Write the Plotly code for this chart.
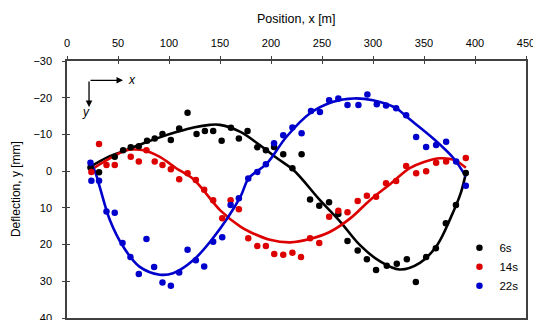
import plotly.graph_objects as go

# ---------------- data ----------------
black_x = [23, 31.4, 46.8, 55, 62.5, 70.4, 78.5, 86, 93.6, 101.8, 110, 118.2, 127, 135.2, 143.3,
           151.6, 160.7, 168.5, 177, 186.5, 195, 203, 212, 221, 230, 238.3, 247.3, 256.9, 266,
           275, 285, 294, 303, 313.5, 323.3, 333.2, 342, 352.1, 361.6, 371.4, 381.3, 391]
black_y = [-1.0, 0.3, -3.9, -5.7, -6.5, -6.8, -8.3, -8.9, -10.1, -8.5, -11.6, -15.9, -10.1, -10.9, -10.9,
           -8.3, -11.8, -8.9, -10.9, -6.5, -5.7, -6.6, -4.6, -0.8, -4.6, 7.7, 9.4, 8.5, 11.7,
           19.0, 21.6, 24.0, 26.9, 25.8, 25.2, 24.0, 30.2, 23.4, 21.0, 14.2, 9.2, 0.5]

red_x = [23.9, 31.4, 38.7, 46.8, 62.5, 70.4, 77.9, 86, 93.6, 101.8, 110, 118.2, 126.3, 134.5, 143.3,
         152.2, 160.4, 168.5, 177.7, 186.5, 195, 203.2, 212, 221, 229.4, 238.3, 247.3, 257, 266,
         275, 285, 294, 303, 312.8, 322.7, 332.5, 342.3, 352.1, 361.9, 371.7, 391]
red_y = [0.2, -7.4, -1.7, -1.7, -3.9, -2.6, -5.7, -2.6, -1.7, -0.5, 2.2, 0.6, 2.4, 5.1, 7.9,
         12.8, 7.9, 10.4, 18.3, 20.4, 20.4, 22.6, 22.8, 22.2, 23.4, 18.3, 19.6, 12.4, 10.8,
         11.2, 8.1, 6.7, 7.0, 3.3, 2.7, -1.4, 0.6, 0.0, -2.3, -2.6, -3.6]

blue_x = [23, 23.9, 31.4, 38.7, 46.8, 54.4, 62.2, 70.4, 77.9, 85.4, 93.6, 101.8, 110, 118.2, 126.3,
          134.5, 143.3, 152.2, 160.4, 168.5, 177.7, 186.5, 195, 203, 212, 221, 230, 239.2, 248,
          257, 266, 275, 285.7, 294.5, 303.7, 312.8, 322.7, 332.5, 342.3, 352.1, 361.9, 371.7,
          381.5, 391]
blue_y = [-2.3, 2.6, 2.6, 11.0, 11.3, 19.6, 23.4, 28.0, 18.5, 26.1, 30.3, 31.2, 27.6, 21.4, 24.3,
          26.0, 19.2, 18.0, 9.2, 7.4, 2.0, 0.2, -1.9, -7.6, -9.8, -11.9, -10.3, -16.4, -16.1,
          -19.3, -19.8, -18.0, -18.0, -20.9, -18.2, -17.9, -17.1, -15.2, -9.3, -6.6, -7.1, -8.0,
          -2.6, 4.0]

# trend curves
black_fit_x = [23, 40, 58, 75, 91, 108, 124, 140, 150, 170, 189, 206, 222, 248, 268, 287, 307,
               326, 346, 363, 376, 386, 391]
black_fit_y = [-1.2, -3.8, -5.7, -7.6, -9.2, -10.7, -11.9, -12.6, -12.6, -10.7, -7.1, -3.5, -0.3,
               7.9, 13.8, 20.1, 24.6, 26.8, 25.0, 20.1, 12.8, 6.0, 0.6]
red_fit_x = [23, 42, 58, 66, 75, 91, 107, 124, 150, 170, 179, 199, 219, 238, 258, 278, 297, 317,
             336, 350, 366, 380, 391]
red_fit_y = [-0.3, -3.5, -5.7, -5.9, -5.7, -3.9, -0.8, 2.2, 10.6, 15.1, 16.5, 18.7, 19.4, 18.5,
             16.5, 12.8, 7.9, 3.5, -0.8, -2.5, -3.5, -3.0, -0.9]
blue_fit_x = [23, 28, 32, 42, 55, 71, 91, 104, 124, 143, 170, 178, 196, 215, 238, 261, 281, 300,
              323, 333, 359, 379, 391]
blue_fit_y = [-2.6, 0.5, 4.2, 13.3, 20.5, 26.0, 28.2, 27.8, 24.2, 18.3, 7.0, 2.0, -2.1, -9.3,
              -15.7, -18.9, -19.8, -19.3, -17.1, -14.8, -8.9, -3.5, 1.5]

series_names = ["6s", "14s", "22s"]
x_ticks = [0, 50, 100, 150, 200, 250, 300, 350, 400, 450]
y_ticks = [-30, -20, -10, 0, 10, 20, 30, 40]
x_title = "Position, x [m]"
y_title = "Deflection, y [mm]"

# ---------------- figure ----------------
colors = ["#000000", "#dd0000", "#0000cc"]
FONT = "Liberation Sans, Arial, sans-serif"

fig = go.Figure()
fits = [(black_fit_x, black_fit_y), (red_fit_x, red_fit_y), (blue_fit_x, blue_fit_y)]
pts = [(black_x, black_y), (red_x, red_y), (blue_x, blue_y)]

for (fx, fy), c in zip(fits, colors):
    fig.add_trace(go.Scatter(x=fx, y=fy, mode="lines",
                             line=dict(color=c, width=2.6, shape="spline", smoothing=1.0),
                             showlegend=False, hoverinfo="skip"))
for (px, py), c, n in zip(pts, colors, series_names):
    fig.add_trace(go.Scatter(x=px, y=py, mode="markers", name=n,
                             marker=dict(color=c, size=6.5, line=dict(width=0))))

# dummy trace to register overlay axes (for crossing ticks)
fig.add_trace(go.Scatter(x=[None], y=[None], xaxis="x2", yaxis="y2", showlegend=False,
                         hoverinfo="skip"))

axcol = "#404040"
# the page body has an 8px default margin, so the figure is 8px smaller than the window
fig.update_layout(
    width=533, height=312,
    margin=dict(l=59, r=15, t=53, b=2, autoexpand=False),
    paper_bgcolor="white", plot_bgcolor="white",
    font=dict(family=FONT, size=11, color="#000"),
    xaxis=dict(range=[0, 450], side="top", tickvals=x_ticks, ticks="outside", ticklen=3,
               tickcolor=axcol, showgrid=False, zeroline=False, showline=True, linecolor=axcol,
               linewidth=1.5, mirror=True, automargin=False, ticklabelstandoff=5,
               ticklabeloverflow="allow", tickfont=dict(size=11)),
    yaxis=dict(range=[40, -30], tickvals=y_ticks, ticks="outside", ticklen=3, tickcolor=axcol,
               showgrid=False, zeroline=False, showline=True, linecolor=axcol, linewidth=1.5,
               mirror=True, ticklabelstandoff=8, automargin=False,
               ticklabeloverflow="allow", tickfont=dict(size=11)),
    xaxis2=dict(range=[0, 450], overlaying="x", side="top", tickvals=x_ticks, ticks="inside",
                ticklen=3, tickcolor=axcol, showticklabels=False, showgrid=False, zeroline=False,
                showline=False, anchor="y2", automargin=False),
    yaxis2=dict(range=[40, -30], overlaying="y", side="left", tickvals=y_ticks, ticks="inside",
                ticklen=3, tickcolor=axcol, showticklabels=False, showgrid=False, zeroline=False,
                showline=False, anchor="x2", automargin=False),
    legend=dict(x=0.855, y=0.33, xanchor="left", yanchor="top", bgcolor="rgba(0,0,0,0)",
                font=dict(size=11.5), itemwidth=30, tracegroupgap=0),
    showlegend=True,
)

# axis titles
fig.add_annotation(x=0.5, y=1.162, xref="paper", yref="paper", text=x_title, showarrow=False,
                   font=dict(size=12.5), xanchor="center", yanchor="middle")
fig.add_annotation(x=-0.112, y=0.5, xref="paper", yref="paper", text=y_title, showarrow=False,
                   font=dict(size=12), textangle=-90, xanchor="center", yanchor="middle")

# orientation arrows
fig.add_annotation(x=0.122, y=0.925, xref="paper", yref="paper", ax=-34, ay=0,
                   showarrow=True, arrowhead=2, arrowsize=1, arrowwidth=1.3, arrowcolor="#000", text="")
fig.add_annotation(x=0.048, y=0.821, xref="paper", yref="paper", ax=0, ay=-27,
                   showarrow=True, arrowhead=2, arrowsize=1, arrowwidth=1.3, arrowcolor="#000", text="")
fig.add_annotation(x=0.1427, y=0.925, xref="paper", yref="paper", text="<i>x</i>", showarrow=False,
                   font=dict(size=12), xanchor="center", yanchor="middle")
fig.add_annotation(x=0.0408, y=0.80, xref="paper", yref="paper", text="<i>y</i>", showarrow=False,
                   font=dict(size=12), xanchor="center", yanchor="middle")

fig.write_html("out.html")
